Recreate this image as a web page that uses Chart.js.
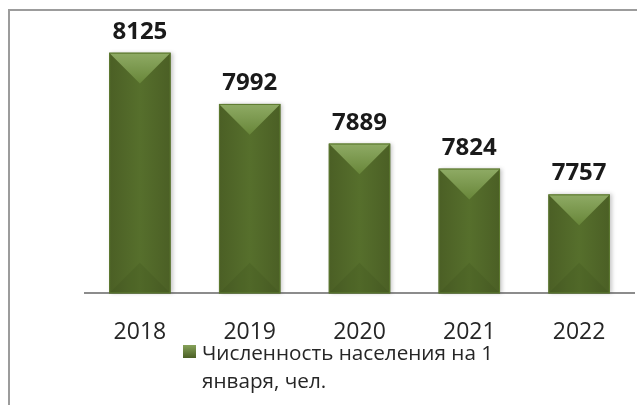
<!DOCTYPE html>
<html>
<head>
<meta charset="utf-8">
<script src="https://cdn.jsdelivr.net/npm/chart.js@4"></script>
<style>
  html, body { margin: 0; padding: 0; background: #fff; }
  #wrap { position: relative; width: 637px; height: 405px; }
  #frame { position: absolute; left: 8px; top: 9px; width: 640px; height: 410px;
           border-top: 2px solid #9c9c9c; border-left: 2px solid #9c9c9c; }
  canvas { position: absolute; left: 0; top: 0; }
</style>
</head>
<body>
<div id="wrap">
  <div id="frame"></div>
  <canvas id="population" width="637" height="405"></canvas>
</div>
<script>
// Численность населения на 1 января
const years = ["2018", "2019", "2020", "2021", "2022"];
const population = [8125, 7992, 7889, 7824, 7757];
const seriesLabel = ["Численность населения на 1", "января, чел."];

// Заливка столбика с «фаской» сверху и снизу
const bevelBars = {
  id: "bevelBars",
  afterDatasetsDraw(chart) {
    const ctx = chart.ctx;
    chart.getDatasetMeta(0).data.forEach((bar) => {
      const l = bar.x - bar.width / 2, r = bar.x + bar.width / 2;
      const t = bar.y, b = Math.min(bar.base, chart.chartArea.bottom);
      const d = bar.width / 2;
      ctx.save();
      // основной цвет
      const g = ctx.createLinearGradient(l, 0, r, 0);
      g.addColorStop(0, "#4b5f25");
      g.addColorStop(0.5, "#566f2c");
      g.addColorStop(1, "#4b5f25");
      ctx.shadowColor = "rgba(0,0,0,0.22)";
      ctx.shadowBlur = 4;
      ctx.shadowOffsetX = 2;
      ctx.fillStyle = g;
      ctx.fillRect(l, t, r - l, b - t);
      ctx.shadowColor = "transparent";
      // верхний треугольник
      const gt = ctx.createLinearGradient(0, t, 0, t + d);
      gt.addColorStop(0, "#8fab65");
      gt.addColorStop(1, "#688639");
      ctx.fillStyle = gt;
      ctx.beginPath();
      ctx.moveTo(l, t); ctx.lineTo(r, t); ctx.lineTo(bar.x, t + d); ctx.closePath();
      ctx.fill();
      // нижний треугольник
      ctx.fillStyle = "rgba(40,55,15,0.12)";
      ctx.beginPath();
      ctx.moveTo(l, b); ctx.lineTo(r, b); ctx.lineTo(bar.x, b - d); ctx.closePath();
      ctx.fill();
      // контур
      ctx.strokeStyle = "#5d7a30";
      ctx.lineWidth = 1;
      ctx.strokeRect(l + 0.5, t + 0.5, r - l - 1, b - t - 1);
      ctx.restore();
    });
  },
  afterDraw(chart) {
    const ctx = chart.ctx;
    // подписи значений
    ctx.save();
    ctx.font = "bold 24px 'Open Sans'";
    ctx.fillStyle = "#1a1a1a";
    ctx.textAlign = "center";
    ctx.textBaseline = "alphabetic";
    chart.getDatasetMeta(0).data.forEach((bar, i) => {
      ctx.fillText(String(population[i]), bar.x, bar.y - 14);
    });
    // легенда
    const sx = 183, sy = 345;
    const gs = ctx.createLinearGradient(sx, sy, sx, sy + 13);
    gs.addColorStop(0, "#86a25a");
    gs.addColorStop(1, "#4b5f25");
    ctx.fillStyle = gs;
    ctx.fillRect(sx, sy, 13, 13);
    ctx.font = "20.7px 'Open Sans'";
    ctx.fillStyle = "#262626";
    ctx.textAlign = "left";
    ctx.fillText(seriesLabel[0], 202, 360);
    ctx.fillText(seriesLabel[1], 202, 388);
    ctx.restore();
  }
};

new Chart(document.getElementById("population"), {
  type: "bar",
  data: {
    labels: years,
    datasets: [{
      label: seriesLabel.join(" "),
      data: population,
      backgroundColor: "rgba(0,0,0,0)",
      borderWidth: 0,
      categoryPercentage: 1,
      barPercentage: 0.56
    }]
  },
  options: {
    responsive: false,
    animation: false,
    layout: { padding: { left: 85, right: 3, top: 20, bottom: 42 } },
    plugins: {
      legend: { display: false },
      tooltip: { enabled: false }
    },
    scales: {
      x: {
        grid: { display: false },
        border: { display: true, color: "#8c8c8c", width: 2 },
        ticks: { color: "#262626", font: { family: "'Open Sans'", size: 23 }, padding: 17 }
      },
      y: {
        display: false,
        min: 7500,
        max: 8210
      }
    }
  },
  plugins: [bevelBars]
});
</script>
</body>
</html>
